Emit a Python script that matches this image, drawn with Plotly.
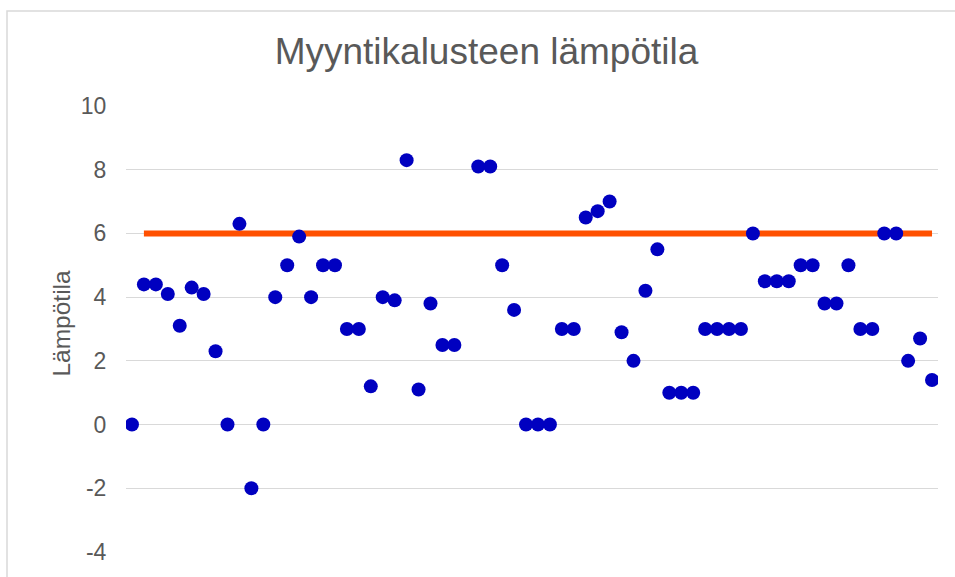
import plotly.graph_objects as go

# Data
measurement_no = list(range(1, 69))
temperature = [
    0, 4.4, 4.4, 4.1, 3.1, 4.3, 4.1, 2.3, 0, 6.3,
    -2, 0, 4, 5, 5.9, 4, 5, 5, 3, 3,
    1.2, 4, 3.9, 8.3, 1.1, 3.8, 2.5, 2.5, None, 8.1,
    8.1, 5, 3.6, 0, 0, 0, 3, 3, 6.5, 6.7,
    7, 2.9, 2, 4.2, 5.5, 1, 1, 1, 3, 3,
    3, 3, 6, 4.5, 4.5, 4.5, 5, 5, 3.8, 3.8,
    5, 3, 3, 6, 6, 2, 2.7, 1.4,
]
limit_x = [2, 68]
limit_y = [6, 6]

title_text = "Myyntikalusteen lämpötila"
y_title = "Lämpötila"
y_ticks = [-4, -2, 0, 2, 4, 6, 8, 10]
y_tick_labels = ["-4", "-2", "0", "2", "4", "6", "8", "10"]

W, H = 955, 577
L, R, T, B = 126, 938, 106, 557
pw, ph = R - L, B - T

fig = go.Figure()
fig.add_trace(go.Scatter(
    x=limit_x, y=limit_y, mode="lines",
    line=dict(color="#FF5000", width=6),
    hoverinfo="skip", showlegend=False,
))
fig.add_trace(go.Scatter(
    x=measurement_no, y=temperature, mode="markers",
    marker=dict(color="#0000C0", size=14, line=dict(width=0)),
    showlegend=False,
))

font = "Liberation Sans, Arial, sans-serif"
fig.update_layout(
    width=W, height=H,
    margin=dict(l=L, r=W - R, t=T, b=H - B, pad=0),
    paper_bgcolor="white", plot_bgcolor="white",
    font=dict(family=font, color="#595959"),
    showlegend=False,
    title=dict(
        text=title_text, font=dict(size=37, color="#595959", family=font),
        xref="paper", x=(486.5 - L) / pw, xanchor="center",
        yref="container", y=1 - 51 / H, yanchor="middle",
    ),
    xaxis=dict(
        range=[0.5, 68.5], showgrid=False, zeroline=False,
        showticklabels=False, showline=False, ticks="",
    ),
    yaxis=dict(
        range=[-4, 10], tickvals=y_ticks, ticktext=y_tick_labels, showgrid=True,
        gridcolor="#D9D9D9", gridwidth=1.3, zeroline=False, showline=False,
        ticks="outside", ticklen=14, tickcolor="rgba(0,0,0,0)",
        tickfont=dict(size=23, color="#595959", family=font),
    ),
    annotations=[dict(
        text=y_title, textangle=-90, showarrow=False,
        xref="paper", yref="paper",
        x=(62 - L) / pw, y=(B - 326) / ph, xanchor="center", yanchor="middle",
        font=dict(size=24.5, color="#595959", family=font),
    )],
    shapes=[dict(
        type="rect", xref="paper", yref="paper",
        x0=(7 - L) / pw, x1=2.0, y0=-1.0, y1=1 + (T - 10) / ph,
        line=dict(color="#D9D9D9", width=1.5), fillcolor="rgba(0,0,0,0)",
        layer="below",
    )],
)

fig.write_html("out.html", config={"displayModeBar": False},
               post_script="document.body.style.margin='0';")
